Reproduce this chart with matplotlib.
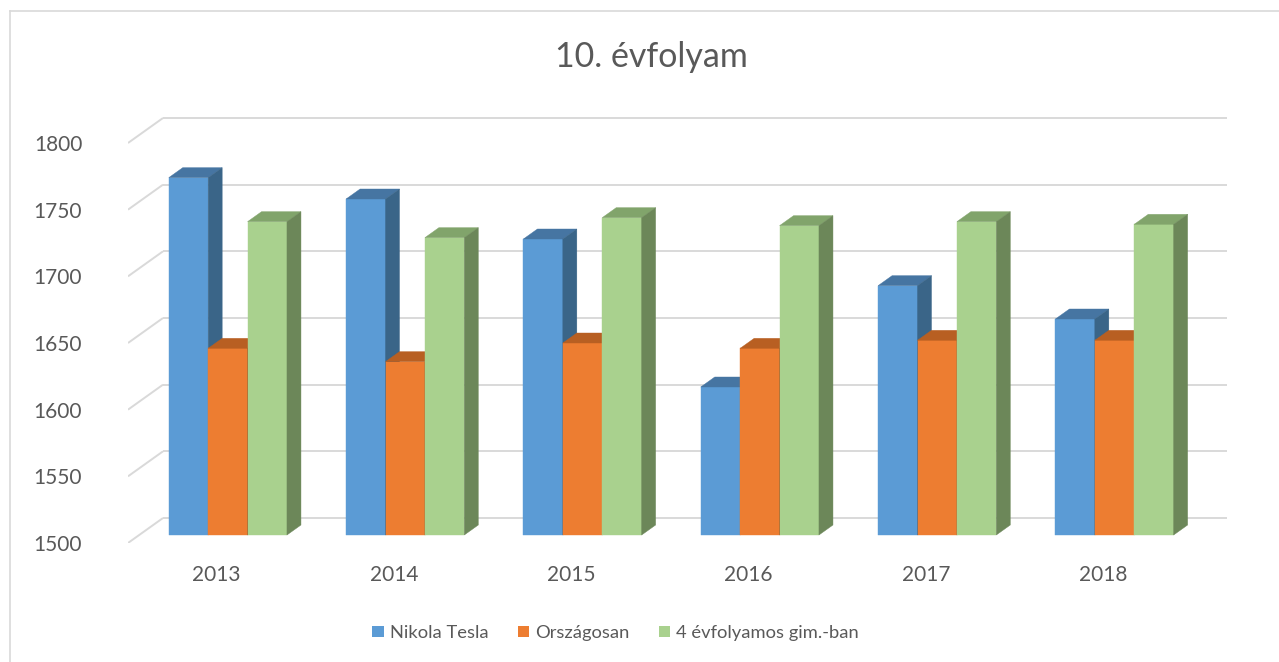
import matplotlib
matplotlib.use('Agg')
import matplotlib.pyplot as plt
from matplotlib.patches import Polygon, Patch
from matplotlib.lines import Line2D

# ---- data ----
years = ['2013', '2014', '2015', '2016', '2017', '2018']
series_names = ['Nikola Tesla', 'Országosan', '4 évfolyamos gim.-ban']
nikola_tesla = [1768, 1752, 1722, 1611, 1687, 1662]
orszagosan = [1640, 1630, 1644, 1640, 1646, 1646]
gim4 = [1735, 1723, 1738, 1732, 1735, 1733]
y_ticks = [1500, 1550, 1600, 1650, 1700, 1750, 1800]
title = '10. évfolyam'

# ---- style ----
W, H, DPI = 1279, 662, 100
FONT = 'Lato'
TXT = '#595959'
GRID = '#D9D9D9'
front_cols = ['#5B9BD5', '#ED7D31', '#A9D18E']
top_cols = ['#4675A2', '#B85F22', '#81A46B']
side_cols = ['#3A6588', '#9A4F1C', '#6C8759']

plt.rcParams['font.family'] = [FONT, 'DejaVu Sans']

fig = plt.figure(figsize=(W / DPI, H / DPI), dpi=DPI)
# plot region in pixels
px_l, px_r, px_t, px_b = 128, 1227, 117, 543
ax = fig.add_axes([px_l / W, 1 - px_b / H, (px_r - px_l) / W, (px_b - px_t) / H])

cat_px = 1064 / 6.0          # pixels per category on the front plane
val_px = 400 / 300.0         # pixels per value unit
ymin = y_ticks[0]
ax.set_xlim(-0.5, -0.5 + (px_r - px_l) / cat_px)
ax.set_ylim(ymin, ymin + (px_b - px_t) / val_px)

# depth vector (full depth of the 3D box) in data units
Dx = 35 / cat_px
Dy = 25 / val_px
f0, f1 = 0.32, 0.72          # bar front / back depth fractions
bw = 39.4 / cat_px           # bar width

# back wall gridlines and left wall diagonals
x_back0 = -0.5 + Dx
x_back1 = ax.get_xlim()[1]
for v in y_ticks:
    ax.plot([x_back0, x_back1], [v + Dy, v + Dy], color=GRID, lw=1.4, zorder=1,
            solid_capstyle='butt')
    ax.plot([-0.5, x_back0], [v, v + Dy], color=GRID, lw=1.4, zorder=1,
            solid_capstyle='butt')

series = [nikola_tesla, orszagosan, gim4]
z = 2
for i in range(len(years)):
    for s, vals in enumerate(series):
        v = vals[i]
        x0 = i - 1.5 * bw + s * bw + f0 * Dx
        x1 = x0 + bw
        yb = ymin + f0 * Dy
        yt = v + f0 * Dy
        ddx = (f1 - f0) * Dx
        ddy = (f1 - f0) * Dy
        front = Polygon([(x0, yb), (x1, yb), (x1, yt), (x0, yt)], closed=True,
                        facecolor=front_cols[s], edgecolor=front_cols[s], lw=0.3, zorder=z)
        top = Polygon([(x0, yt), (x1, yt), (x1 + ddx, yt + ddy), (x0 + ddx, yt + ddy)],
                      closed=True, facecolor=top_cols[s], edgecolor=top_cols[s], lw=0.3, zorder=z)
        side = Polygon([(x1, yb), (x1 + ddx, yb + ddy), (x1 + ddx, yt + ddy), (x1, yt)],
                       closed=True, facecolor=side_cols[s], edgecolor=side_cols[s], lw=0.3, zorder=z)
        for p in (front, top, side):
            ax.add_patch(p)
        z += 1

# axes ticks
ax.set_yticks(y_ticks)
ax.set_yticklabels([str(t) for t in y_ticks])
ax.set_xticks(range(len(years)))
ax.set_xticklabels(years)
ax.tick_params(axis='y', length=0, pad=33, labelsize=15, labelcolor=TXT)
ax.tick_params(axis='x', length=0, pad=16, labelsize=15, labelcolor=TXT)
for sp in ax.spines.values():
    sp.set_visible(False)
ax.set_facecolor('none')

fig.text(651 / W, 1 - 57 / H, title, ha='center', va='center', fontsize=24.5, color=TXT)

handles = [Patch(facecolor=c, edgecolor='none') for c in front_cols]
fig.legend(handles, series_names, loc='center', bbox_to_anchor=(615.5 / W, 1 - 633 / H),
           ncol=3, frameon=False, fontsize=13.2, labelcolor=TXT, handlelength=0.62,
           handleheight=0.62, handletextpad=0.32, columnspacing=1.6)

# chart border (left and top visible)
fig.add_artist(Line2D([9.5 / W, 9.5 / W], [0, 1 - 11 / H], color=GRID, lw=1.2))
fig.add_artist(Line2D([9.5 / W, 1], [1 - 11 / H, 1 - 11 / H], color=GRID, lw=1.2))

fig.savefig('out.png', dpi=DPI)
